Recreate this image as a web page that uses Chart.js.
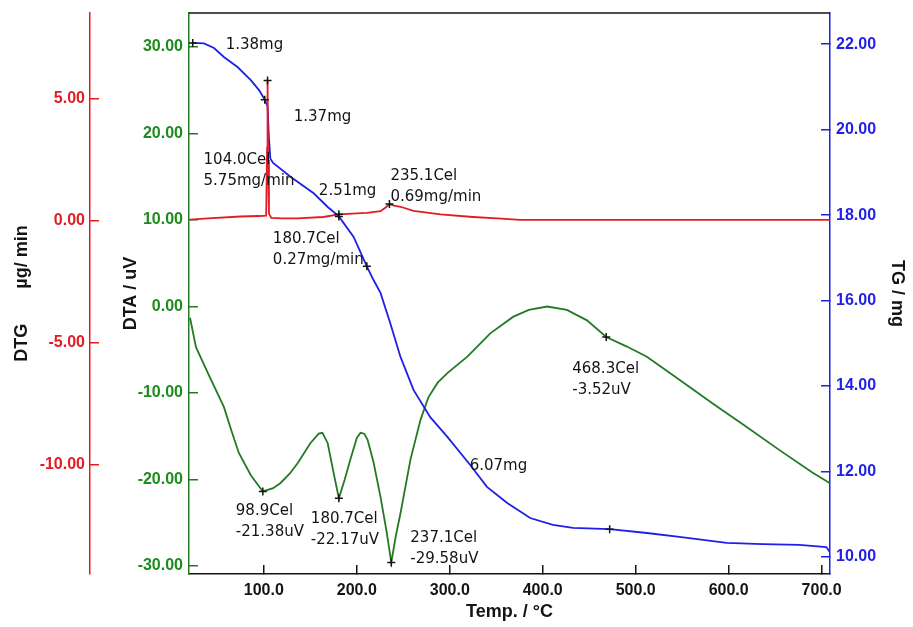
<!DOCTYPE html>
<html>
<head>
<meta charset="utf-8">
<title>TG / DTA / DTG</title>
<script src="https://cdn.jsdelivr.net/npm/chart.js@4.4.1/dist/chart.umd.min.js"></script>
<style>
  html, body { margin: 0; padding: 0; background: #fff; }
  #wrap { width: 913px; height: 627px; }
</style>
</head>
<body>
<div id="wrap"><canvas id="ta" width="913" height="627"></canvas></div>
<script>
// DTA curve (uV) against temperature (°C)
const dtaTemp = [20.6, 27, 42, 57, 65, 73, 86, 98.9, 110, 118, 128, 136.5, 150, 159, 163, 168.7, 175, 180.7, 187, 193, 200, 204, 208, 211.6, 218, 225.5, 232, 237.1, 242, 247, 257.7, 268.5, 277, 287, 297.4, 318.9, 343.6, 368, 385, 404.7, 426, 447.6, 468.3, 490, 512, 547.4, 582.8, 619, 654.7, 690, 708.6];
const dtaVal = [-1.3, -4.7, -8.2, -11.6, -14.3, -16.9, -19.5, -21.38, -21.0, -20.4, -19.3, -18.1, -15.8, -14.7, -14.6, -15.8, -19.2, -22.17, -20.0, -17.7, -15.2, -14.6, -14.7, -15.4, -18.0, -22.0, -26.0, -29.58, -26.5, -23.9, -17.7, -13.1, -10.5, -8.8, -7.7, -5.8, -3.1, -1.2, -0.4, 0.0, -0.4, -1.6, -3.52, -4.6, -5.8, -8.5, -11.2, -13.9, -16.6, -19.2, -20.4];

// TG curve (mg)
const tgTemp = [23.5, 35.6, 46.4, 57, 72, 86, 95, 101, 104, 105.5, 107, 110, 129, 153.6, 168.7, 180.7, 196.6, 210.8, 218, 225.5, 236, 247, 261, 279, 297.4, 322, 340, 361.8, 386.5, 411, 432.6, 472, 512, 547, 597.8, 636.5, 676, 705, 708.6];
const tgVal = [22.03, 22.02, 21.91, 21.70, 21.46, 21.16, 20.92, 20.70, 20.55, 19.80, 19.32, 19.22, 18.89, 18.51, 18.19, 17.97, 17.49, 16.80, 16.48, 16.18, 15.47, 14.68, 13.91, 13.27, 12.81, 12.15, 11.64, 11.26, 10.91, 10.75, 10.68, 10.65, 10.56, 10.47, 10.33, 10.30, 10.28, 10.23, 10.12];

// DTG curve (mg/min)
const dtgTemp = [20.6, 40, 75, 95, 102.5, 103.5, 104.0, 104.6, 105.5, 108, 120, 136, 164, 180.7, 200, 211, 225.5, 231, 235.1, 240, 247, 261, 290, 325, 351, 376, 450, 550, 650, 708.6];
const dtgVal = [0.05, 0.1, 0.18, 0.2, 0.22, 3.0, 5.75, 2.5, 0.3, 0.12, 0.1, 0.1, 0.16, 0.27, 0.31, 0.33, 0.4, 0.55, 0.69, 0.63, 0.58, 0.41, 0.27, 0.16, 0.10, 0.04, 0.04, 0.04, 0.04, 0.04];

// picked points
const dtaPeakTemp = [98.9, 180.7, 237.1, 468.3];
const dtaPeakVal = [-21.38, -22.17, -29.58, -3.52];
const dtgPeakTemp = [104.0, 180.7, 235.1];
const dtgPeakVal = [5.75, 0.27, 0.69];
const tgStepTemp = [23.5, 101, 180.7, 210.8, 472];
const tgStepVal = [22.03, 20.70, 17.97, 16.80, 10.65];

// ticks
const tempTicks = [100, 200, 300, 400, 500, 600, 700];
const dtaTicks = [-30, -20, -10, 0, 10, 20, 30];
const dtgTicks = [-10, -5, 0, 5];
const tgTicks = [10, 12, 14, 16, 18, 20, 22];

const RED = '#e31b23';
const GREEN = '#237a23';
const GREEN_TXT = '#1c8c1c';
const BLUE = '#1f1fe6';
const INK = '#141414';

// annotation texts, placed relative to the picked point they belong to
const notes = [
  { axis: 'yTg', x: 23.5, y: 22.03, dx: 33, dy: 2, lines: ['1.38mg'] },
  { axis: 'yTg', x: 101, y: 20.70, dx: 29, dy: 17, lines: ['1.37mg'] },
  { axis: 'yDtg', x: 104.0, y: 5.75, dx: -64, dy: 80, lines: ['104.0Cel', '5.75mg/min'] },
  { axis: 'yTg', x: 180.7, y: 17.97, dx: -20, dy: -25, lines: ['2.51mg'] },
  { axis: 'yDtg', x: 235.1, y: 0.69, dx: 1, dy: -28, lines: ['235.1Cel', '0.69mg/min'] },
  { axis: 'yDtg', x: 180.7, y: 0.27, dx: -66, dy: 25, lines: ['180.7Cel', '0.27mg/min'] },
  { axis: 'yDta', x: 468.3, y: -3.52, dx: -34, dy: 32, lines: ['468.3Cel', '-3.52uV'] },
  { axis: 'yTg', x: 472, y: 10.65, dx: -140, dy: -63, lines: ['6.07mg'] },
  { axis: 'yDta', x: 98.9, y: -21.38, dx: -27, dy: 20, lines: ['98.9Cel', '-21.38uV'] },
  { axis: 'yDta', x: 180.7, y: -22.17, dx: -28, dy: 21, lines: ['180.7Cel', '-22.17uV'] },
  { axis: 'yDta', x: 237.1, y: -29.58, dx: 19, dy: -24, lines: ['237.1Cel', '-29.58uV'] }
];

const pts = (xs, ys) => xs.map((t, i) => ({ x: t, y: ys[i] }));

const notePlugin = {
  id: 'notes',
  afterDatasetsDraw(chart) {
    const { ctx, scales } = chart;
    ctx.save();
    ctx.font = '15px "DejaVu Sans"';
    ctx.fillStyle = INK;
    ctx.textBaseline = 'middle';
    notes.forEach(n => {
      const px = scales.x.getPixelForValue(n.x) + n.dx;
      const py = scales[n.axis].getPixelForValue(n.y) + n.dy;
      n.lines.forEach((s, i) => ctx.fillText(s, px, py + i * 21));
    });
    ctx.restore();
  }
};

// top edge of the plot frame
const framePlugin = {
  id: 'frame',
  afterDraw(chart) {
    const { ctx, chartArea: a } = chart;
    ctx.save();
    ctx.strokeStyle = INK;
    ctx.lineWidth = 1.5;
    ctx.beginPath();
    ctx.moveTo(a.left, a.top);
    ctx.lineTo(a.right, a.top);
    ctx.stroke();
    ctx.restore();
  }
};

const tickFont = { family: 'Liberation Sans', size: 16, weight: 'bold' };
const titleFont = { family: 'Liberation Sans', size: 18, weight: 'bold' };

// fixed box sizes so the axes land where they should, no label overhang padding
function fixBox(s, w, h) {
  if (w) s.width = w;
  if (h) s.height = h;
  s.paddingTop = 0;
  s.paddingBottom = 0;
  s.paddingLeft = 0;
  s.paddingRight = 0;
}

function yAxis(color, txtColor, tickVals, min, max, pos, weight, title, titlePad, width, pad) {
  return {
    type: 'linear', position: pos, weight: weight, min: min, max: max,
    afterBuildTicks: s => { s.ticks = tickVals.map(v => ({ value: v })); },
    afterFit: s => fixBox(s, width, 0),
    ticks: { color: txtColor, font: tickFont, padding: pad, callback: v => v.toFixed(2) },
    grid: { drawOnChartArea: false, tickLength: -9, color: color, lineWidth: 1.5 },
    border: { color: color, width: 1.5 },
    title: { display: true, text: title, color: INK, font: titleFont, padding: { top: titlePad, bottom: 0 } }
  };
}

new Chart(document.getElementById('ta'), {
  type: 'line',
  data: {
    datasets: [
      { type: 'scatter', data: pts(dtaPeakTemp, dtaPeakVal), yAxisID: 'yDta', pointStyle: 'cross', pointRadius: 4, borderColor: INK, borderWidth: 1.5, order: 0 },
      { type: 'scatter', data: pts(dtgPeakTemp, dtgPeakVal), yAxisID: 'yDtg', pointStyle: 'cross', pointRadius: 4, borderColor: INK, borderWidth: 1.5, order: 0 },
      { type: 'scatter', data: pts(tgStepTemp, tgStepVal), yAxisID: 'yTg', pointStyle: 'cross', pointRadius: 4, borderColor: INK, borderWidth: 1.5, order: 0 },
      { label: 'DTG', data: pts(dtgTemp, dtgVal), yAxisID: 'yDtg', borderColor: RED, borderWidth: 1.8, pointRadius: 0, order: 1 },
      { label: 'TG', data: pts(tgTemp, tgVal), yAxisID: 'yTg', borderColor: BLUE, borderWidth: 1.8, pointRadius: 0, order: 2 },
      { label: 'DTA', data: pts(dtaTemp, dtaVal), yAxisID: 'yDta', borderColor: GREEN, borderWidth: 1.8, pointRadius: 0, order: 3 }
    ]
  },
  options: {
    responsive: false,
    animation: false,
    devicePixelRatio: 1,
    layout: { padding: { top: 13, left: 0, right: 0, bottom: 0 } },
    plugins: { legend: { display: false }, tooltip: { enabled: false } },
    scales: {
      x: {
        type: 'linear', min: 19.5, max: 709,
        afterBuildTicks: s => { s.ticks = tempTicks.map(v => ({ value: v })); },
        afterFit: s => fixBox(s, 0, 53),
        ticks: { color: INK, font: tickFont, padding: 16, maxRotation: 0, autoSkip: false, callback: v => v.toFixed(1) },
        grid: { drawOnChartArea: false, tickLength: -9, color: INK, lineWidth: 1.5 },
        border: { color: INK, width: 1.5 },
        title: { display: true, text: 'Temp. / °C', color: INK, font: titleFont, padding: { top: 0, bottom: 4 } }
      },
      yDtg: yAxis(RED, RED, dtgTicks, -14.47, 8.52, 'left', 1, 'DTG       µg/ min', 11, 90, 14),
      yDta: yAxis(GREEN, GREEN_TXT, dtaTicks, -30.92, 33.93, 'left', 0, 'DTA / uV', 30, 99, 15),
      yTg: yAxis(BLUE, BLUE, tgTicks, 9.60, 22.73, 'right', 0, 'TG / mg', 5, 83, 15)
    }
  },
  plugins: [notePlugin, framePlugin]
});
</script>
</body>
</html>
